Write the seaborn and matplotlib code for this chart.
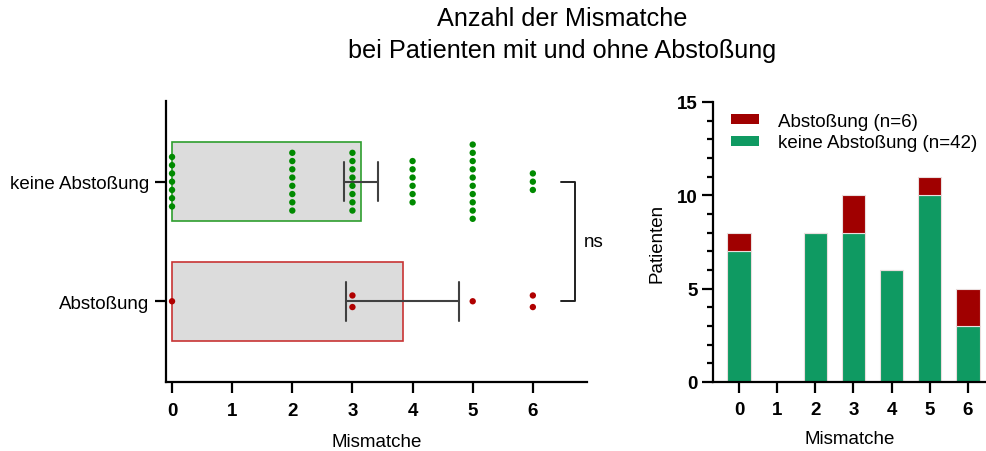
import numpy as np
import pandas as pd
import matplotlib
matplotlib.use("Agg")
import matplotlib.pyplot as plt
from matplotlib.patches import Patch
from matplotlib.ticker import MultipleLocator
import seaborn as sns

# Number of HLA mismatches per patient, counted per outcome group
mismatch = [0, 1, 2, 3, 4, 5, 6]
count_no_rejection = [7, 0, 8, 8, 6, 10, 3]
count_rejection = [1, 0, 0, 2, 0, 1, 2]

groups = ["keine Abstoßung", "Abstoßung"]
legend_labels = ["Abstoßung (n=6)", "keine Abstoßung (n=42)"]
title = "Anzahl der Mismatche\nbei Patienten mit und ohne Abstoßung"
x_label = "Mismatche"
y_label_right = "Patienten"
test_label = "ns"

# Styling
GRAY = "#dcdcdc"
BAR_EDGES = ["#2e9e2e", "#c83434"]
DOT_COLORS = {"keine Abstoßung": "#008a00", "Abstoßung": "#b00000"}
DOT_STEP = {"keine Abstoßung": 0.069, "Abstoßung": 0.097}
STACK_COLORS = {"Abstoßung": "#a00000", "keine Abstoßung": "#0f9a62"}
ERR_COLOR = "#404040"
FS = 13.5

sns.set_style("ticks")
plt.rcParams["font.family"] = ["Liberation Sans", "DejaVu Sans"]
plt.rcParams["axes.linewidth"] = 1.6
plt.rcParams["axes.edgecolor"] = "black"
plt.rcParams["axes.labelcolor"] = "black"
plt.rcParams["text.color"] = "black"
plt.rcParams["xtick.color"] = "black"
plt.rcParams["ytick.color"] = "black"

# One row per patient
rows = []
for grp, counts in zip(groups, [count_no_rejection, count_rejection]):
    for m, c in zip(mismatch, counts):
        rows += [(grp, m)] * c
patients = pd.DataFrame(rows, columns=["Gruppe", "Mismatche"])

fig = plt.figure(figsize=(9.87, 4.52), dpi=100)
ax1 = fig.add_axes([0.1682, 0.1527, 0.4265, 0.6217])
ax2 = fig.add_axes([0.7221, 0.1527, 0.2779, 0.6195])

# ---- left: mean ± SEM with individual patients ----
sns.barplot(data=patients, x="Mismatche", y="Gruppe", order=groups, orient="y",
            estimator="mean", errorbar="se", capsize=0.325, color=GRAY,
            saturation=1, width=0.66, linewidth=1.2,
            err_kws={"color": ERR_COLOR, "linewidth": 1.5, "zorder": 3}, ax=ax1)
for patch, ec in zip(ax1.patches, BAR_EDGES):
    patch.set_edgecolor(ec)
    patch.set_zorder(1)

dot_x, dot_y, dot_g = [], [], []
for gi, (grp, counts) in enumerate(zip(groups, [count_no_rejection, count_rejection])):
    step = DOT_STEP[grp]
    for m, c in zip(mismatch, counts):
        for k in range(c):
            dot_x.append(m)
            dot_y.append(gi + (k - (c - 1) / 2) * step)
            dot_g.append(grp)
sns.scatterplot(x=dot_x, y=dot_y, hue=dot_g, palette=DOT_COLORS, s=21,
                linewidth=0, legend=False, zorder=4, ax=ax1)

ax1.set_xlim(-0.1, 6.9)
ax1.set_ylim(1.675, -0.675)
ax1.set_xticks(mismatch)
ax1.set_xticklabels([str(m) for m in mismatch], fontsize=FS, fontweight="bold")
ax1.set_yticks([0, 1])
ax1.set_yticklabels(groups, fontsize=FS)
ax1.tick_params(axis="both", length=8, width=1.6)
ax1.tick_params(axis="x", pad=6.5)
ax1.tick_params(axis="y", pad=4)
ax1.set_xlabel(x_label, fontsize=FS, labelpad=10)
ax1.set_ylabel("")
sns.despine(ax=ax1)

# significance bracket between the groups
bx, bl = 6.7, 6.47
ax1.plot([bl, bx, bx, bl], [0, 0, 1, 1], color="#202020", lw=1.4,
         clip_on=False, zorder=3)
ax1.text(6.84, 0.5, test_label, fontsize=FS, va="center", ha="left")

# ---- right: stacked patient counts per mismatch ----
counts_df = pd.DataFrame({
    "Mismatche": mismatch * 2,
    "Patienten": count_rejection + count_no_rejection,
    "Gruppe": ["Abstoßung"] * len(mismatch) + ["keine Abstoßung"] * len(mismatch),
})
sns.histplot(data=counts_df, x="Mismatche", weights="Patienten", hue="Gruppe",
             hue_order=["Abstoßung", "keine Abstoßung"], multiple="stack",
             discrete=True, shrink=0.61, palette=STACK_COLORS, alpha=1,
             edgecolor="#eadede", linewidth=0.8, legend=False, ax=ax2)

ax2.set_xlim(-0.69, 6.5)
ax2.set_ylim(0, 15)
ax2.set_xticks(mismatch)
ax2.set_xticklabels([str(m) for m in mismatch], fontsize=FS, fontweight="bold")
ax2.set_yticks([0, 5, 10, 15])
ax2.set_yticklabels(["0", "5", "10", "15"], fontsize=FS, fontweight="bold")
ax2.yaxis.set_minor_locator(MultipleLocator(1))
ax2.tick_params(axis="both", which="major", length=8, width=1.6, pad=3)
ax2.tick_params(axis="x", which="major", pad=5.5)
ax2.tick_params(axis="y", which="minor", length=4.5, width=1.6)
ax2.set_xlabel(x_label, fontsize=FS, labelpad=9)
ax2.set_ylabel(y_label_right, fontsize=FS, labelpad=8)
sns.despine(ax=ax2)

handles = [Patch(facecolor=STACK_COLORS["Abstoßung"], edgecolor="none"),
           Patch(facecolor=STACK_COLORS["keine Abstoßung"], edgecolor="none")]
ax2.legend(handles, legend_labels, loc="upper left", bbox_to_anchor=(0.067, 0.962),
           frameon=False, fontsize=FS, handlelength=1.5, handleheight=0.45,
           handletextpad=1.0, labelspacing=0.25, borderpad=0, borderaxespad=0)

fig.text(0.570, 1 - 35 / 452, title, fontsize=18.2, ha="center", va="center",
         linespacing=1.38)

fig.savefig("out.png", dpi=100)
